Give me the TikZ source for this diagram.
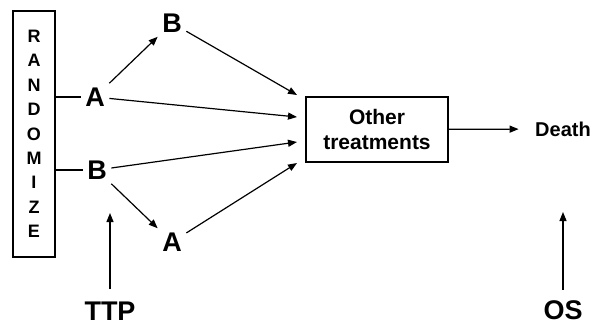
\documentclass[tikz,border=0pt]{standalone}
\usepackage{fontspec}
\setmainfont{Liberation Sans}
\usetikzlibrary{arrows.meta,positioning}

\begin{document}
\begin{tikzpicture}[x=1pt,y=-1pt,>={Triangle[length=9pt,width=7pt]},line width=1.2pt,
    arm/.style={font=\bfseries\fontsize{27}{27}\selectfont,inner sep=4pt},
    label text/.style={font=\bfseries\fontsize{27}{27}\selectfont,inner sep=0pt}]
  \useasboundingbox (0,0) rectangle (594,325);
  % randomization box
  \node[draw,minimum width=42pt,minimum height=246pt,align=center,inner sep=0pt,
        font=\bfseries\fontsize{18}{24.4}\selectfont] (rand) at (34,134)
        {R\\A\\N\\D\\O\\M\\I\\Z\\E};
  % treatment sequences
  \node[arm] (a1) at (95,97) {A};
  \node[arm] (b1) at (172,23) {B};
  \node[arm] (b2) at (97,170) {B};
  \node[arm] (a2) at (172,242) {A};
  \node[draw,minimum width=142pt,minimum height=65pt,align=center,inner sep=0pt,
        font=\bfseries\fontsize{21}{25}\selectfont] (other) at (377,129.5)
        {Other\\treatments};
  \node[font=\bfseries\fontsize{20}{20}\selectfont,inner sep=2pt] (death) at (563,129) {Death};
  \node[label text] (ttp) at (110,311) {TTP};
  \node[label text] (os) at (563,310) {OS};
  % arrow ends at the box
  \coordinate (in1) at (297,95);
  \coordinate (in2) at (297,117);
  \coordinate (in3) at (297,142);
  \coordinate (in4) at (297,163);
  \coordinate (ttptip) at (110,213);
  \coordinate (ostip) at (563,212);
  \draw (rand.east |- a1) -- (a1);
  \draw (rand.east |- b2) -- (b2);
  \draw[->] (a1) -- (b1);
  \draw[->] (b2) -- (a2);
  \draw[->] (b1) -- (in1);
  \draw[->] (a1) -- (in2);
  \draw[->] (b2) -- (in3);
  \draw[->] (a2) -- (in4);
  \draw[->,shorten >=14pt] (other) -- (death);
  \draw[->,shorten <=12pt] (ttp) -- (ttptip);
  \draw[->,shorten <=10pt] (os) -- (ostip);
\end{tikzpicture}
\end{document}
